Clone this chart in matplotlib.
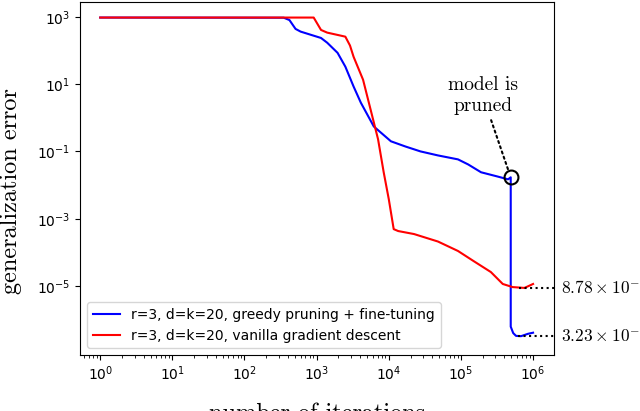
import matplotlib
matplotlib.use('agg')
import matplotlib.pyplot as plt
import numpy as np

# greedy pruning + fine-tuning (blue)
blue_iters = [1, 350, 420, 510, 600, 1150, 1400, 1950, 2500, 3250, 4100, 6200,
              10700, 17000, 27500, 48000, 91000, 126000, 190000, 320000,
              450000, 490000, 490000, 530000, 580000, 680000, 850000, 1000000]
blue_err = [950, 940, 800, 437, 363, 235, 170, 85, 33, 8.5, 2.8, 0.55,
            0.2, 0.14, 0.1, 0.076, 0.058, 0.041, 0.024, 0.018,
            0.0148, 0.017, 6.2e-7, 4.0e-7, 3.3e-7, 3.23e-7, 3.8e-7, 4.1e-7]

# vanilla gradient descent (red)
red_iters = [1, 910, 1150, 1400, 2500, 2900, 3250, 4400, 5600, 7100, 8500, 10000,
             11700, 13500, 22400, 48000, 91000, 150000, 260000, 380000,
             520000, 760000, 1000000]
red_err = [950, 950, 407, 339, 257, 140, 65, 13.5, 1.74, 0.23, 0.024, 0.0038,
           4.9e-4, 4.3e-4, 3.5e-4, 2.1e-4, 1.1e-4, 5.5e-5, 2.6e-5, 1.15e-5,
           9.3e-6, 8.78e-6, 1.15e-5]

labels = ['r=3, d=k=20, greedy pruning + fine-tuning',
          'r=3, d=k=20, vanilla gradient descent']
y_ticks = [1e-5, 1e-3, 1e-1, 1e1, 1e3]

prune_point = (4.9e5, 0.017)
final_red = 8.78e-6
final_blue = 3.23e-7

fig = plt.figure(figsize=(6.4, 4.11), dpi=100)
ax = fig.add_axes([80/640, 1 - 355/411, 474/640, 353/411])

ax.plot(blue_iters, blue_err, color='blue', lw=1.5, label=labels[0])
ax.plot(red_iters, red_err, color='red', lw=1.5, label=labels[1])
ax.set_xscale('log')
ax.set_yscale('log')
ax.set_xlim(10**-0.28, 10**6.29)
ax.set_ylim(10**-7.05, 10**3.44)
ax.set_yticks(y_ticks)
ax.yaxis.set_minor_locator(matplotlib.ticker.NullLocator())

ax.plot([prune_point[0]], [prune_point[1]], 'o', ms=10, mfc='none',
        mec='black', mew=1.5)
ax.annotate('model is\npruned', xy=prune_point, xytext=(2.0e5, 4.6),
            ha='center', va='center', fontsize=14, family='cmr10',
            arrowprops=dict(arrowstyle='-', ls=':', lw=1.5, color='k',
                            shrinkA=2, shrinkB=5))

xmax = ax.get_xlim()[1]
ax.plot([6.4e5, xmax], [final_red] * 2, ':', color='k', lw=1.5, clip_on=False)
ax.plot([6.2e5, xmax], [final_blue] * 2, ':', color='k', lw=1.5, clip_on=False)
tr = ax.get_yaxis_transform()
ax.text(1.015, final_red, r'$8.78\times10^{-6}$', transform=tr, va='center',
        fontsize=12.5, math_fontfamily='cm')
ax.text(1.015, final_blue, r'$3.23\times10^{-7}$', transform=tr, va='center',
        fontsize=12.5, math_fontfamily='cm')

ax.legend(loc='lower left')
ax.set_xlabel('number of iterations', family='cmr10', fontsize=17.5, labelpad=14)
ax.set_ylabel('generalization error', family='cmr10', fontsize=17.5)
ax.yaxis.set_label_coords(-0.123, 0.465)

fig.savefig('out.png', dpi=100)
